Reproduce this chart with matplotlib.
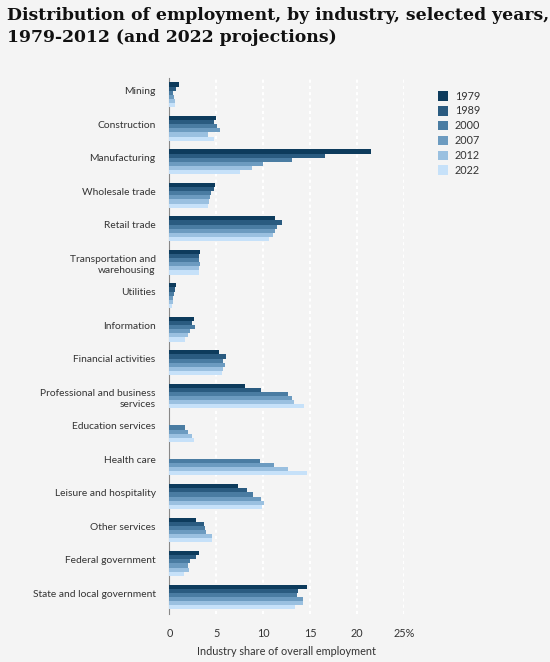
import numpy as np
import matplotlib
matplotlib.use("Agg")
import matplotlib.pyplot as plt

industries = [
    "Mining",
    "Construction",
    "Manufacturing",
    "Wholesale trade",
    "Retail trade",
    "Transportation and\nwarehousing",
    "Utilities",
    "Information",
    "Financial activities",
    "Professional and business\nservices",
    "Education services",
    "Health care",
    "Leisure and hospitality",
    "Other services",
    "Federal government",
    "State and local government",
]
years = ["1979", "1989", "2000", "2007", "2012", "2022"]

nan = np.nan
share_1979 = [1.0, 5.0, 21.5, 4.9, 11.2, 3.3, 0.7, 2.6, 5.3, 8.0, nan, nan, 7.3, 2.8, 3.1, 14.6]
share_1989 = [0.7, 4.8, 16.6, 4.8, 12.0, 3.1, 0.6, 2.4, 6.0, 9.7, nan, nan, 8.3, 3.7, 2.8, 13.7]
share_2000 = [0.4, 5.1, 13.1, 4.4, 11.5, 3.2, 0.5, 2.7, 5.7, 12.6, 1.7, 9.6, 8.9, 3.8, 2.2, 13.6]
share_2007 = [0.5, 5.4, 10.0, 4.3, 11.2, 3.3, 0.4, 2.2, 5.9, 13.0, 2.0, 11.1, 9.7, 3.9, 2.0, 14.2]
share_2012 = [0.6, 4.1, 8.8, 4.2, 11.0, 3.2, 0.4, 2.0, 5.7, 13.3, 2.4, 12.6, 10.1, 4.5, 2.1, 14.2]
share_2022 = [0.6, 4.8, 7.5, 4.1, 10.6, 3.1, 0.3, 1.7, 5.6, 14.3, 2.6, 14.6, 9.9, 4.5, 1.6, 13.4]
series = [share_1979, share_1989, share_2000, share_2007, share_2012, share_2022]

colors = ["#0d3b5c", "#2a5b80", "#4a7ca2", "#6c9bc0", "#9ac0e0", "#c6e1f9"]
bg = "#f4f4f4"
text_color = "#333333"

plt.rcParams["font.family"] = ["Lato", "DejaVu Sans"]

fig = plt.figure(figsize=(5.5, 6.62), dpi=100, facecolor=bg)
ax = fig.add_axes([0.308, 0.073, 0.427, 0.809], facecolor=bg)

n = len(industries)
y = np.arange(n)
bar_h = 0.74 / len(years)
for k, (year, values) in enumerate(zip(years, series)):
    offs = -0.37 + bar_h * (k + 0.5)
    ax.barh(y + offs, values, height=bar_h, color=colors[k], label=year,
            edgecolor="none", zorder=3)

ax.set_xlim(0, 25)
ax.set_ylim(n - 0.5, -0.5)
ax.set_xticks([0, 5, 10, 15, 20, 25])
ax.set_xticklabels(["0", "5", "10", "15", "20", "25%"])
ax.set_yticks(y - 0.22)
ax.set_yticklabels(industries, linespacing=1.3)
for lab in ax.get_yticklabels():
    lab.set_va("top")
ax.tick_params(axis="y", length=0, pad=10, labelsize=7.4, labelcolor=text_color)
ax.tick_params(axis="x", length=0, pad=10, labelsize=7.8, labelcolor=text_color)
ax.xaxis.grid(True, color="white", linestyle=(0, (1.5, 1.5)), linewidth=1.5, zorder=0)
for side in ["top", "right", "bottom"]:
    ax.spines[side].set_visible(False)
ax.spines["left"].set_color("#888888")
ax.spines["left"].set_linewidth(0.8)
ax.set_xlabel("Industry share of overall employment", fontsize=7.8,
              color=text_color, labelpad=5)

fig.legend(loc="upper left", bbox_to_anchor=(0.778, 0.878), frameon=False,
           fontsize=7.8, handlelength=1.0, handleheight=1.0, labelspacing=0.36,
           handletextpad=0.6, labelcolor=text_color)

fig.text(0.013, 0.99,
         "Distribution of employment, by industry, selected years,\n1979-2012 (and 2022 projections)",
         ha="left", va="top", fontsize=12.4, fontweight="bold", family="DejaVu Serif",
         color="#111111", linespacing=1.45)

fig.savefig("out.png", dpi=100, facecolor=bg)
